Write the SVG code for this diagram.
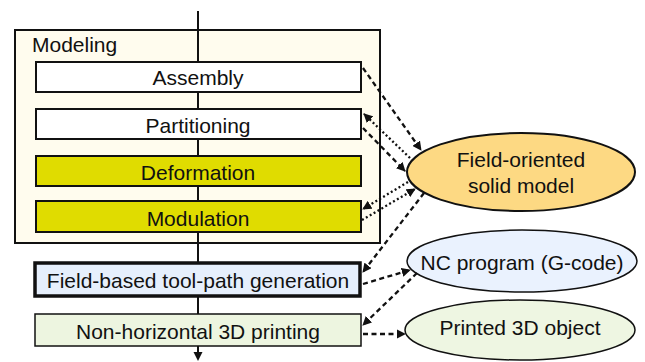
<svg xmlns="http://www.w3.org/2000/svg" width="645" height="362" viewBox="0 0 645 362">
<style>
text{font-family:"Liberation Sans",Arial,sans-serif;font-size:21px;fill:#111;text-anchor:middle}
.box{stroke:#111;stroke-width:2}
.dash{fill:none;stroke:#111;stroke-width:2.3;stroke-dasharray:5 3.5}
.dot{fill:none;stroke:#111;stroke-width:2.3;stroke-dasharray:2 2.5}
</style>
<defs>
<marker id="ah" viewBox="0 0 10 10" refX="9" refY="5" markerWidth="4" markerHeight="4" orient="auto" markerUnits="strokeWidth">
<path d="M0,0L10,5L0,10z" fill="#111"/>
</marker>
</defs>
<rect width="645" height="362" fill="#fff"/>
<g id="modeling">
<rect x="15" y="30" width="365" height="213" fill="#FFFCEE" class="box"/>
<text x="32" y="52" style="text-anchor:start">Modeling</text>
</g>
<g id="flow">
<line x1="198" y1="11" x2="198" y2="353" stroke="#111" stroke-width="2"/>
<path d="M193.5,352L202.5,352L198,361z" fill="#111"/>
</g>
<g id="assembly">
<rect x="36" y="62" width="325" height="30" fill="#fff" class="box"/>
<text x="198" y="85">Assembly</text>
</g>
<g id="partitioning">
<rect x="36" y="109" width="325" height="30" fill="#fff" class="box"/>
<text x="198" y="133">Partitioning</text>
</g>
<g id="deformation">
<rect x="36" y="156" width="325" height="30" fill="#E0DC00" class="box"/>
<text x="198" y="180">Deformation</text>
</g>
<g id="modulation">
<rect x="36" y="201" width="325" height="31" fill="#E0DC00" class="box"/>
<text x="198" y="226">Modulation</text>
</g>
<g id="toolpath">
<rect x="35" y="263" width="325" height="33" fill="#E6EFFC" stroke="#111" stroke-width="3.5"/>
<text x="198" y="288">Field-based tool-path generation</text>
</g>
<g id="printing">
<rect x="35" y="314" width="326" height="32" fill="#EDF5E0" stroke="#111" stroke-width="1.5"/>
<text x="198" y="339">Non-horizontal 3D printing</text>
</g>
<g id="solidmodel">
<ellipse cx="521" cy="172" rx="114" ry="39" fill="#FDD983" stroke="#111" stroke-width="2"/>
<text x="521" y="167">Field-oriented</text>
<text x="521" y="193">solid model</text>
</g>
<g id="ncprogram">
<ellipse cx="522" cy="261" rx="115" ry="31" fill="#EAF2FE" stroke="#111" stroke-width="1.5"/>
<text x="522" y="270">NC program (G-code)</text>
</g>
<g id="printed">
<ellipse cx="520" cy="330" rx="115" ry="30" fill="#EEF6E2" stroke="#111" stroke-width="1.5"/>
<text x="520" y="335">Printed 3D object</text>
</g>
<g id="connectors">
<line x1="363" y1="68" x2="421" y2="150" class="dash" marker-end="url(#ah)"/>
<line x1="410" y1="158" x2="364" y2="114" class="dot" marker-end="url(#ah)"/>
<line x1="363" y1="128" x2="405" y2="171" class="dash" marker-end="url(#ah)"/>
<line x1="408" y1="182" x2="363" y2="209" class="dot" marker-end="url(#ah)"/>
<line x1="362" y1="220" x2="415" y2="189" class="dot" marker-end="url(#ah)"/>
<line x1="424" y1="193" x2="363" y2="272" class="dash" marker-end="url(#ah)"/>
<line x1="363" y1="284" x2="410" y2="270" class="dash" marker-end="url(#ah)"/>
<line x1="417" y1="273" x2="363" y2="325" class="dash" marker-end="url(#ah)"/>
<line x1="363" y1="334" x2="405" y2="334" class="dash" marker-end="url(#ah)"/>
</g>
</svg>
